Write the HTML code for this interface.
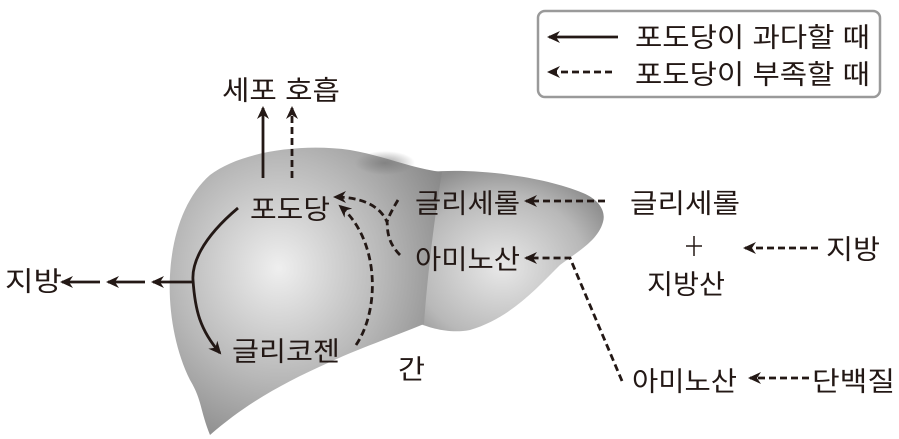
<!DOCTYPE html>
<html><head><meta charset="utf-8"><style>body{margin:0;background:#fff}svg{display:block}text{font-family:"Liberation Sans","Noto Sans CJK KR",sans-serif;font-size:27px;fill:#231815}</style></head><body>
<svg width="899" height="439" viewBox="0 0 899 439">
<defs>
<radialGradient id="g" cx="0.4" cy="0.42" r="0.7">
<stop offset="0" stop-color="#efefef"/><stop offset="0.55" stop-color="#b8b8b8"/><stop offset="1" stop-color="#858585"/></radialGradient>
<radialGradient id="g2" cx="0.45" cy="0.6" r="0.65">
<stop offset="0" stop-color="#e8e8e8"/><stop offset="0.7" stop-color="#b8b8b8"/><stop offset="1" stop-color="#8e8e8e"/></radialGradient>
<radialGradient id="n" cx="0.5" cy="0.5" r="0.5">
<stop offset="0" stop-color="#777" stop-opacity="0.7"/><stop offset="1" stop-color="#777" stop-opacity="0"/></radialGradient>
<marker id="a" markerWidth="14" markerHeight="12" refX="11" refY="6" orient="auto" markerUnits="userSpaceOnUse"><path d="M0,0 L13,6 L0,12 L4,6 Z" fill="#231815"/></marker>
</defs>
<path d="M430,172 C470,168 540,175 583,193 C600,200 606,212 603,222 C598,240 580,250 560,265 C535,290 510,318 470,330 C450,334 430,328 418,323 Z" fill="url(#g2)"/>
<path d="M210,175 C240,152 300,143 350,150 C385,156 410,168 442,172 C434,220 427,280 424,324 C390,338 360,348 330,362 C290,380 250,400 210,435 C200,410 202,400 190,380 C175,350 168,310 170,275 C172,235 185,197 210,175 Z" fill="url(#g)"/>
<ellipse cx="385" cy="163" rx="30" ry="12" fill="url(#n)"/>
<g stroke="#231815" stroke-width="2.8" fill="none">
<line x1="263" y1="178" x2="263" y2="108" marker-end="url(#a)"/>
<line x1="292" y1="178" x2="292" y2="108" stroke-dasharray="7,4" marker-end="url(#a)"/>
<path d="M238,208 C200,240 192,265 193,280 C195,310 200,330 220,353" marker-end="url(#a)"/>
<line x1="193" y1="282" x2="153" y2="282" marker-end="url(#a)"/>
<line x1="145" y1="282" x2="108" y2="282" marker-end="url(#a)"/>
<line x1="100" y1="282" x2="62" y2="282" marker-end="url(#a)"/>
<g stroke-dasharray="7,4">
<path d="M400,255 C385,240 388,225 387,222 C380,205 360,197 335,197" marker-end="url(#a)"/>
<path d="M398,200 C392,210 388,218 387,222"/>
<path d="M356,345 C380,310 380,240 340,206" marker-end="url(#a)"/>
<line x1="605" y1="201" x2="526" y2="201" marker-end="url(#a)"/>
<path d="M622,381 L570,258 L526,258" marker-end="url(#a)"/>
<line x1="818" y1="248" x2="745" y2="248" marker-end="url(#a)"/>
<line x1="809" y1="378" x2="750" y2="378" marker-end="url(#a)"/>
<line x1="612" y1="72" x2="549" y2="72" marker-end="url(#a)"/>
</g>
<line x1="618" y1="37" x2="549" y2="37" marker-end="url(#a)"/>
<path d="M686,246 H702 M694,236 V256" stroke-width="1.5"/>
</g>
<rect x="538" y="11" width="342" height="86" rx="7" fill="none" stroke="#9a9a9a" stroke-width="2.5"/>
<g>
<text x="635" y="47" textLength="235" lengthAdjust="spacingAndGlyphs">포도당이 과다할 때</text>
<text x="635" y="84" textLength="235" lengthAdjust="spacingAndGlyphs">포도당이 부족할 때</text>
<text x="222" y="100" textLength="118" lengthAdjust="spacingAndGlyphs">세포 호흡</text>
<text x="250" y="219" textLength="80" lengthAdjust="spacingAndGlyphs">포도당</text>
<text x="415" y="213" textLength="105" lengthAdjust="spacingAndGlyphs">글리세롤</text>
<text x="630" y="213" textLength="110" lengthAdjust="spacingAndGlyphs">글리세롤</text>
<text x="415" y="269" textLength="105" lengthAdjust="spacingAndGlyphs">아미노산</text>
<text x="5" y="291" textLength="57" lengthAdjust="spacingAndGlyphs">지방</text>
<text x="232" y="361" textLength="108" lengthAdjust="spacingAndGlyphs">글리코젠</text>
<text x="398" y="379" textLength="27" lengthAdjust="spacingAndGlyphs">간</text>
<text x="647" y="294" textLength="78" lengthAdjust="spacingAndGlyphs">지방산</text>
<text x="826" y="259" textLength="54" lengthAdjust="spacingAndGlyphs">지방</text>
<text x="632" y="391" textLength="105" lengthAdjust="spacingAndGlyphs">아미노산</text>
<text x="812" y="391" textLength="83" lengthAdjust="spacingAndGlyphs">단백질</text>
</g>
</svg>
</body></html>
